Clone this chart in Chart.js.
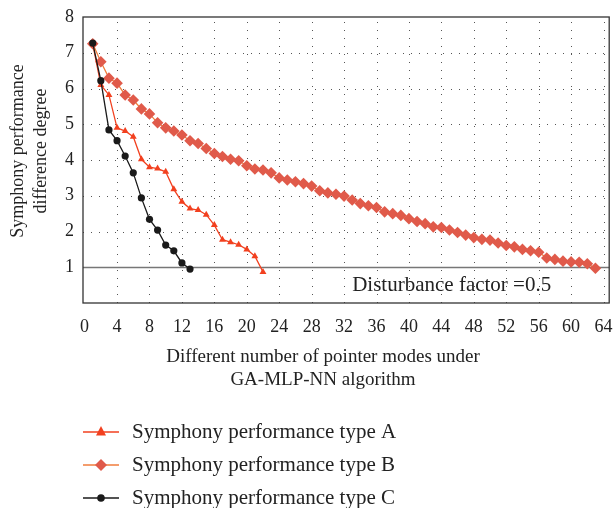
<!DOCTYPE html>
<html>
<head>
<meta charset="utf-8">
<script src="https://cdn.jsdelivr.net/npm/chart.js@4"></script>
<style>
  html, body { margin: 0; padding: 0; background: #fff; }
  #wrap { width: 615px; height: 508px; }
</style>
</head>
<body>
<div id="wrap"><canvas id="chart" width="615" height="508"></canvas></div>
<script>
// ── Data ──────────────────────────────────────────────────────────────
const modes = [
    1, 2, 3, 4, 5, 6, 7, 8, 9, 10, 11, 12, 13, 14, 15, 16, 17, 18, 19, 20,
    21, 22, 23, 24, 25, 26, 27, 28, 29, 30, 31, 32, 33, 34, 35, 36, 37, 38, 39, 40,
    41, 42, 43, 44, 45, 46, 47, 48, 49, 50, 51, 52, 53, 54, 55, 56, 57, 58, 59, 60,
    61, 62, 63
];
const typeA = [7.25, 6.1, 5.82, 4.9, 4.81, 4.65, 4.02, 3.8, 3.76, 3.67, 3.18, 2.83,
    2.64, 2.6, 2.47, 2.18, 1.77, 1.7, 1.63, 1.5, 1.31, 0.87];
const typeB = [7.25, 6.75, 6.29, 6.15, 5.82, 5.68, 5.43, 5.29, 5.04, 4.9, 4.81, 4.7,
    4.54, 4.46, 4.32, 4.18, 4.1, 4.02, 3.98, 3.84, 3.75, 3.72, 3.64, 3.5, 3.44, 3.39,
    3.34, 3.27, 3.14, 3.08, 3.04, 2.99, 2.88, 2.78, 2.72, 2.67, 2.55, 2.5, 2.45, 2.36,
    2.28, 2.22, 2.13, 2.11, 2.04, 1.97, 1.9, 1.83, 1.78, 1.76, 1.68, 1.61, 1.57, 1.5,
    1.46, 1.42, 1.26, 1.22, 1.17, 1.15, 1.14, 1.1, 0.97];
const typeC = [7.27, 6.22, 4.84, 4.54, 4.11, 3.64, 2.94, 2.34, 2.04, 1.62, 1.46, 1.12, 0.95];
const xTicks = [0, 4, 8, 12, 16, 20, 24, 28, 32, 36, 40, 44, 48, 52, 56, 60, 64];
const seriesNames = ['Symphony performance type A', 'Symphony performance type B', 'Symphony performance type C'];
const xTitle = ['Different number of pointer modes under', 'GA-MLP-NN algorithm'];
const yTitle = ['Symphony performance', 'difference degree'];
const disturbance = 1;
const disturbanceLabel = 'Disturbance factor =0.5';

const FONT = "'Liberation Serif', 'DejaVu Serif', serif";

function toPoints(values) {
    return values.map(function (v, i) { return { x: modes[i], y: v }; });
}

// ── Plugins ───────────────────────────────────────────────────────────
const gridPlugin = {
    id: 'dotGrid',
    beforeDatasetsDraw(chart) {
        const { ctx, chartArea: a, scales: { x, y } } = chart;
        ctx.save();
        ctx.strokeStyle = '#555';
        ctx.lineWidth = 1;
        ctx.setLineDash([1, 7]);
        x.ticks.forEach(function (t) {
            if (t.value <= 0 || t.value >= 64.5) return;
            const px = Math.round(x.getPixelForValue(t.value)) + 0.5;
            ctx.beginPath(); ctx.moveTo(px, a.bottom); ctx.lineTo(px, a.top); ctx.stroke();
        });
        y.ticks.forEach(function (t) {
            if (t.value <= 0 || t.value >= 8 || t.value === disturbance) return;
            const py = Math.round(y.getPixelForValue(t.value)) + 0.5;
            ctx.beginPath(); ctx.moveTo(a.left, py); ctx.lineTo(a.right, py); ctx.stroke();
        });
        ctx.setLineDash([]);
        // disturbance line
        const py = Math.round(y.getPixelForValue(disturbance)) + 0.5;
        ctx.strokeStyle = '#777';
        ctx.lineWidth = 1.5;
        ctx.beginPath(); ctx.moveTo(a.left, py); ctx.lineTo(a.right, py); ctx.stroke();
        ctx.fillStyle = '#222';
        ctx.font = '21px ' + FONT;
        ctx.textBaseline = 'middle';
        ctx.fillText(disturbanceLabel, x.getPixelForValue(33.0), py + 18);
        ctx.restore();
    },
    afterDraw(chart) {
        const { ctx, chartArea: a } = chart;
        ctx.save();
        ctx.strokeStyle = '#333';
        ctx.lineWidth = 1.3;
        ctx.strokeRect(a.left, a.top, a.right - a.left, a.bottom - a.top);

        // axis titles
        ctx.fillStyle = '#222';
        ctx.textAlign = 'center';
        ctx.textBaseline = 'middle';
        ctx.font = '19px ' + FONT;
        ctx.fillText(xTitle[0], 323, 357);
        ctx.fillText(xTitle[1], 323, 380);
        ctx.font = '18px ' + FONT;
        ctx.translate(0, 151);
        ctx.rotate(-Math.PI / 2);
        ctx.fillText(yTitle[0], 0, 18);
        ctx.fillText(yTitle[1], 0, 41);
        ctx.restore();
    }
};

function drawMarker(ctx, style, cx, cy, r, color) {
    ctx.fillStyle = color;
    ctx.beginPath();
    if (style === 'triangle') {
        ctx.moveTo(cx, cy - r * 1.2);
        ctx.lineTo(cx + r, cy + r * 0.7);
        ctx.lineTo(cx - r, cy + r * 0.7);
    } else if (style === 'rectRot') {
        ctx.moveTo(cx, cy - r); ctx.lineTo(cx + r, cy);
        ctx.lineTo(cx, cy + r); ctx.lineTo(cx - r, cy);
    } else {
        ctx.arc(cx, cy, r, 0, Math.PI * 2);
    }
    ctx.closePath();
    ctx.fill();
}

const legendPlugin = {
    id: 'sideLegend',
    afterDraw(chart) {
        const ctx = chart.ctx;
        const rows = [432, 465, 498];
        ctx.save();
        ctx.font = '21px ' + FONT;
        ctx.textBaseline = 'middle';
        chart.data.datasets.forEach(function (ds, i) {
            const yy = rows[i];
            ctx.strokeStyle = ds.borderColor;
            ctx.lineWidth = 1.5;
            ctx.beginPath(); ctx.moveTo(83, yy); ctx.lineTo(119, yy); ctx.stroke();
            drawMarker(ctx, ds.pointStyle, 101, yy, ds.legendSize, ds.pointBackgroundColor);
            ctx.fillStyle = '#222';
            ctx.fillText(ds.label, 132, yy);
        });
        ctx.restore();
    }
};

// ── Chart ─────────────────────────────────────────────────────────────
new Chart(document.getElementById('chart'), {
    type: 'line',
    data: {
        datasets: [{
            label: seriesNames[0],
            data: toPoints(typeA),
            borderColor: '#f2401f',
            backgroundColor: '#f2401f',
            pointBackgroundColor: '#f2401f',
            pointBorderWidth: 0,
            pointStyle: 'triangle',
            pointRadius: 4,
            legendSize: 5,
            borderWidth: 1.3,
            order: 1
        }, {
            label: seriesNames[1],
            data: toPoints(typeB),
            borderColor: '#f07d3c',
            backgroundColor: '#e05a4a',
            pointBackgroundColor: '#e05a4a',
            pointBorderWidth: 0,
            pointStyle: 'rectRot',
            pointRadius: 5.8,
            legendSize: 6,
            borderWidth: 1.3,
            order: 2
        }, {
            label: seriesNames[2],
            data: toPoints(typeC),
            borderColor: '#1a1a1a',
            backgroundColor: '#1a1a1a',
            pointBackgroundColor: '#1a1a1a',
            pointBorderWidth: 0,
            pointStyle: 'circle',
            pointRadius: 3.6,
            legendSize: 3.8,
            borderWidth: 1.3,
            order: 0
        }]
    },
    options: {
        responsive: false,
        animation: false,
        layout: { padding: { left: 0, top: 17, right: 2, bottom: 116 } },
        plugins: {
            legend: { display: false },
            tooltip: { enabled: false }
        },
        scales: {
            x: {
                type: 'linear',
                min: -0.2,
                max: 64.7,
                afterBuildTicks: function (s) { s.ticks = xTicks.map(function (v) { return { value: v }; }); },
                afterFit: function (s) { s.height = 89; s.paddingLeft = 0; s.paddingRight = 0; },
                grid: { display: false },
                border: { display: false },
                ticks: { color: '#222', font: { family: FONT, size: 18 }, padding: 5, maxRotation: 0, autoSkip: false }
            },
            y: {
                type: 'linear',
                min: 0,
                max: 8,
                afterFit: function (s) { s.width = 83; s.paddingTop = 0; s.paddingBottom = 0; },
                grid: { display: false },
                border: { display: false },
                ticks: {
                    stepSize: 0.5,
                    color: '#222',
                    font: { family: FONT, size: 18 },
                    padding: 1,
                    callback: function (v) { return (v > 0 && Number.isInteger(v)) ? v : ''; }
                }
            }
        }
    },
    plugins: [gridPlugin, legendPlugin]
});
</script>
</body>
</html>
